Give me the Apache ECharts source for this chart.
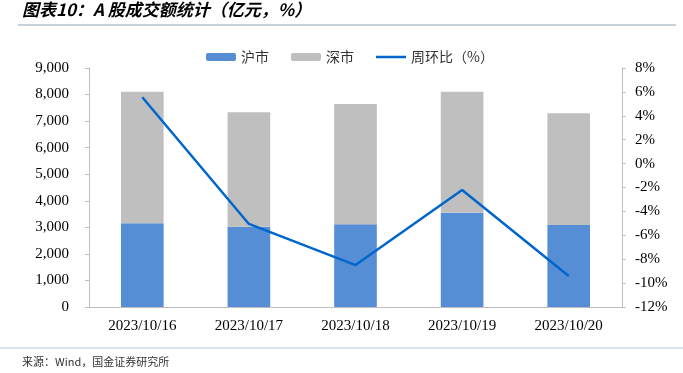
<!DOCTYPE html>
<html><head><meta charset="utf-8">
<script src="https://cdn.jsdelivr.net/npm/echarts@6/dist/echarts.min.js"></script>
<style>html,body{margin:0;padding:0;background:#fff}#c{width:683px;height:373px}</style>
</head><body><div id="c"></div>
<script>
const categories = ['2023/10/16','2023/10/17','2023/10/18','2023/10/19','2023/10/20'];
const shanghai = [3150, 3025, 3115, 3550, 3087];
const shenzhen = [4956, 4305, 4530, 4556, 4208];
const wow = [5.55, -5.05, -8.49, -2.21, -9.41];
const seriesNames = ['沪市','深市','周环比（%）'];

const chart = echarts.init(document.getElementById('c'), null, {renderer:'canvas'});
const serif = '"Liberation Serif","Times New Roman",serif';
const cjk = '"Noto Sans CJK SC",sans-serif';
chart.setOption({
  animation:false,
  backgroundColor:'#fff',
  graphic:[
    {type:'text', left:22, top:1, style:{text:'图表10：A 股成交额统计（亿元，%）', font:'italic bold 17px "Noto Sans CJK SC", sans-serif', fill:'#000'}},
    {type:'line', shape:{x1:18,y1:25,x2:676,y2:25}, style:{stroke:'#8EA3B5', lineWidth:1}},
    {type:'line', shape:{x1:0,y1:348,x2:683,y2:348}, style:{stroke:'#B8CCDA', lineWidth:1}},
    {type:'text', left:22, top:356, style:{text:'来源：Wind，国金证券研究所', font:'11px "Noto Sans CJK SC", sans-serif', fill:'#333'}}
  ],
  legend:{
    top:45, left:201, itemGap:22, itemWidth:30, itemHeight:8,
    textStyle:{fontFamily:cjk, fontSize:14, color:'#333'},
    data:[{name:seriesNames[0]},{name:seriesNames[1]},{name:seriesNames[2], icon:'path://M0,0 L30,0 L30,2.5 L0,2.5 Z', itemStyle:{color:'#0066CC'}}]
  },
  grid:{left:89, right:61, top:68, bottom:66},
  xAxis:{
    type:'category', data:categories,
    axisLine:{lineStyle:{color:'#BFBFBF'}},
    axisTick:{inside:true, length:4, lineStyle:{color:'#BFBFBF'}},
    axisLabel:{fontFamily:serif, fontSize:15, color:'#000', margin:12}
  },
  yAxis:[
    {type:'value', min:0, max:9000, interval:1000,
     axisLine:{show:true, lineStyle:{color:'#BFBFBF'}},
     axisTick:{show:true, length:4, lineStyle:{color:'#BFBFBF'}},
     splitLine:{show:false},
     axisLabel:{fontFamily:serif, fontSize:15, color:'#000', margin:20,
       formatter:v=>v.toLocaleString('en-US')}},
    {type:'value', min:-12, max:8, interval:2,
     axisLine:{show:true, lineStyle:{color:'#BFBFBF'}},
     axisTick:{show:true, length:4, lineStyle:{color:'#BFBFBF'}},
     splitLine:{show:false},
     axisLabel:{fontFamily:serif, fontSize:15, color:'#000', margin:13,
       formatter:v=>v+'%'}}
  ],
  series:[
    {name:seriesNames[0], type:'bar', stack:'t', data:shanghai, barWidth:'40%', itemStyle:{color:'#558ED5'}},
    {name:seriesNames[1], type:'bar', stack:'t', data:shenzhen, barWidth:'40%', itemStyle:{color:'#BFBFBF'}},
    {name:seriesNames[2], type:'line', yAxisIndex:1, data:wow, symbol:'none', lineStyle:{color:'#0066CC', width:2.5}, itemStyle:{color:'#0066CC'}}
  ]
});
</script></body></html>
